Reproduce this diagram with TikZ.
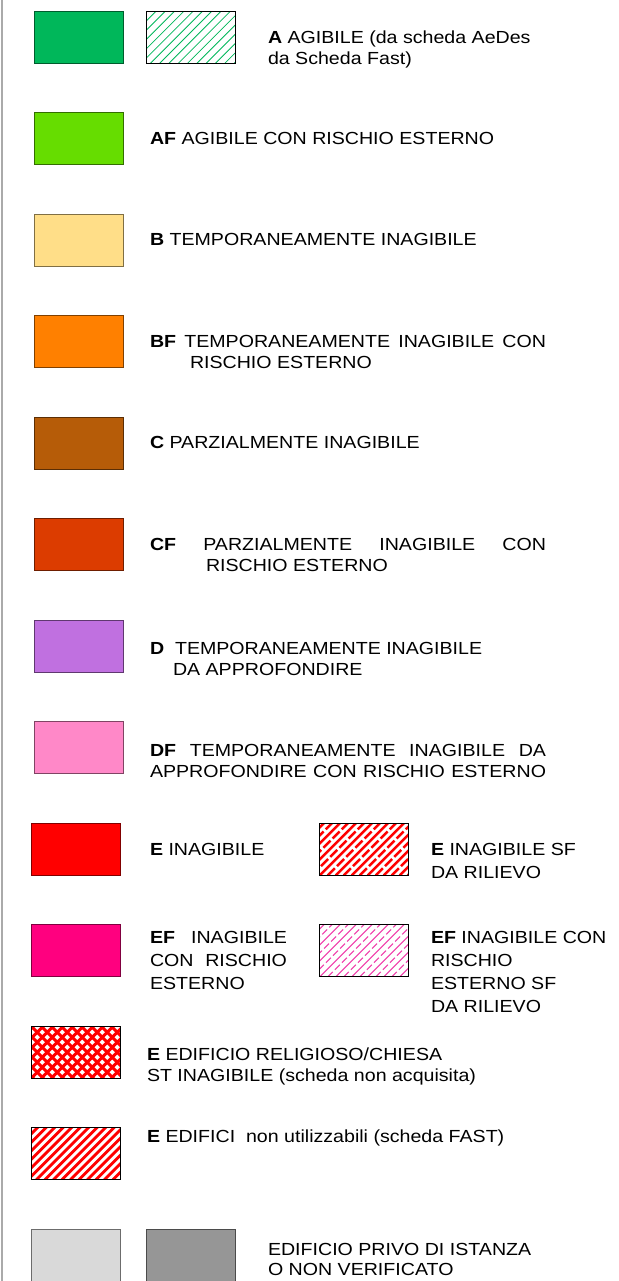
\documentclass[tikz,border=0pt]{standalone}
\usepackage{fontspec}
\newfontfamily\lf[FakeStretch=1.12]{Liberation Sans}
\definecolor{cA}{RGB}{0,183,90}
\definecolor{cAF}{RGB}{102,221,0}
\definecolor{cB}{RGB}{255,222,136}
\definecolor{cBF}{RGB}{255,128,0}
\definecolor{cC}{RGB}{182,92,8}
\definecolor{cCF}{RGB}{220,60,0}
\definecolor{cD}{RGB}{192,112,224}
\definecolor{cDF}{RGB}{255,136,200}
\definecolor{cE}{RGB}{255,0,0}
\definecolor{cEF}{RGB}{255,0,127}
\definecolor{cGl}{RGB}{217,217,217}
\definecolor{cGd}{RGB}{150,150,150}
\definecolor{cPk}{RGB}{240,60,170}
\definecolor{cEdge}{RGB}{170,170,170}
\tikzset{
  txt/.style={anchor=base west, inner sep=0pt, outer sep=0pt, text=black,
    font=\lf\fontsize{17.5}{21}\selectfont},
  legbox/.style={rectangle, inner sep=0pt, outer sep=0pt, minimum width=89pt, minimum height=52pt, line width=0.9pt},
  sbox/.style={legbox, draw=#1!50!black, fill=#1},
  hbox/.style={legbox, draw=black, fill=white},
  diag/.style n args={3}{path picture={\foreach \k in {-80,#1,...,100}{\draw[#2,line width=#3] ([xshift=\k pt]path picture bounding box.south west) -- ++(80,-80);}}},
  cross/.style n args={3}{path picture={\foreach \k in {-80,#1,...,100}{\draw[#2,line width=#3] ([xshift=\k pt]path picture bounding box.south west) -- ++(80,-80);
      \draw[#2,line width=#3] ([xshift=\k pt]path picture bounding box.north west) -- ++(80,80);}}},
  altdiag/.style n args={3}{path picture={\foreach \k in {-80,-64,...,100}{\draw[#1,line width=#2] ([xshift=\k pt]path picture bounding box.south west) -- ++(80,-80);
      \draw[#1,line width=#2,dash pattern=#3] ([xshift=\k pt+8pt]path picture bounding box.south west) -- ++(80,-80);}}},
}
\begin{document}
\begin{tikzpicture}[x=1pt,y=-1pt]
\useasboundingbox[fill=white] (0,0) rectangle (618,1281);
\draw[cEdge, line width=1.3pt] (2,0) -- (2,1281);
% row A
\node[sbox=cA] (bA) at (79.3,37.3) {};
\node[hbox, diag={-70.7}{cA}{0.8pt}] (bAh) at (191.2,37.3) {};
\node[txt] (tA) at (268,44) {\vtop{\baselineskip=21pt\hbox{\textbf{A} AGIBILE (da scheda AeDes}\hbox{da Scheda Fast)}}};
% AF
\node[sbox=cAF] (bAF) at (79.3,138.8) {};
\node[txt] (tAF) at (150,145) {\textbf{AF} AGIBILE CON RISCHIO ESTERNO};
% B
\node[sbox=cB] (bB) at (79.3,240.3) {};
\node[txt] (tB) at (150,246) {\textbf{B} TEMPORANEAMENTE INAGIBILE};
% BF
\node[sbox=cBF] (bBF) at (79.3,341.8) {};
\node[txt] (tBF) at (150,347) {\vtop{\baselineskip=21pt\hbox{\makebox[396pt][s]{\textbf{BF} TEMPORANEAMENTE INAGIBILE CON}}\hbox{\hspace{40pt}RISCHIO ESTERNO}}};
% C
\node[sbox=cC] (bC) at (79.3,443.3) {};
\node[txt] (tC) at (150,448) {\textbf{C} PARZIALMENTE INAGIBILE};
% CF
\node[sbox=cCF] (bCF) at (79.3,544.8) {};
\node[txt] (tCF) at (150,550) {\vtop{\baselineskip=21pt\hbox{\makebox[396pt][s]{\textbf{CF} PARZIALMENTE INAGIBILE CON}}\hbox{\hspace{56pt}RISCHIO ESTERNO}}};
% D
\node[sbox=cD] (bD) at (79.3,646.3) {};
\node[txt] (tD) at (150,654) {\vtop{\baselineskip=21pt\hbox{\textbf{D}\ \ TEMPORANEAMENTE INAGIBILE}\hbox{\hspace{23pt}DA APPROFONDIRE}}};
% DF
\node[sbox=cDF] (bDF) at (79.3,747.8) {};
\node[txt] (tDF) at (150,756) {\vtop{\baselineskip=21pt\hbox{\makebox[396pt][s]{\textbf{DF} TEMPORANEAMENTE INAGIBILE DA}}\hbox{\makebox[396pt][s]{APPROFONDIRE CON RISCHIO ESTERNO}}}};
% E
\node[sbox=cE] (bE) at (75.8,849.3) {};
\node[txt] (tE) at (150,855) {\textbf{E} INAGIBILE};
\node[hbox, altdiag={cE}{2.4pt}{on 10pt off 3pt}] (bEs) at (364.3,849.3) {};
\node[txt] (tEs) at (431,855) {\vtop{\baselineskip=23.5pt\hbox{\textbf{E} INAGIBILE SF}\hbox{DA RILIEVO}}};
% EF
\node[sbox=cEF] (bEF) at (75.8,950.8) {};
\node[txt] (tEF) at (150,943) {\vtop{\baselineskip=23pt\hbox{\makebox[137pt][s]{\textbf{EF} INAGIBILE}}\hbox{\makebox[137pt][s]{CON RISCHIO}}\hbox{ESTERNO}}};
\node[hbox, altdiag={cPk}{1pt}{on 7pt off 3pt}] (bEFs) at (364.3,950.8) {};
\node[txt] (tEFs) at (431,943) {\vtop{\baselineskip=23.3pt\hbox{\textbf{EF} INAGIBILE CON}\hbox{RISCHIO}\hbox{ESTERNO SF}\hbox{DA RILIEVO}}};
% religious
\node[hbox, cross={-70}{cE}{3pt}] (bR) at (75.8,1052.3) {};
\node[txt] (tR) at (147,1060) {\vtop{\baselineskip=21pt\hbox{\textbf{E} EDIFICIO RELIGIOSO/CHIESA}\hbox{ST INAGIBILE (scheda non acquisita)}}};
% E edifici
\node[hbox, diag={-71.5}{cE}{2.8pt}] (bX) at (75.8,1153.8) {};
\node[txt] (tX) at (147,1142.5) {\textbf{E} EDIFICI\ \ non utilizzabili (scheda FAST)};
% gray
\node[sbox=cGl, minimum height=54pt] (bG1) at (75.8,1256.2) {};
\node[sbox=cGd, minimum height=54pt] (bG2) at (191.2,1256.2) {};
\node[txt] (tG) at (268,1255) {\vtop{\baselineskip=20pt\hbox{EDIFICIO PRIVO DI ISTANZA}\hbox{O NON VERIFICATO}}};
\end{tikzpicture}
\end{document}
